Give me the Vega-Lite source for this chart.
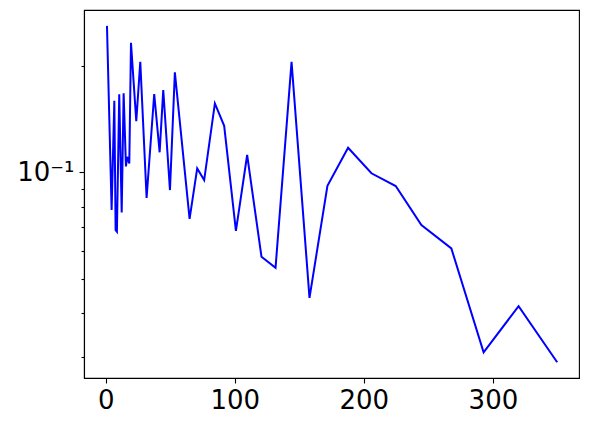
{
  "$schema": "https://vega.github.io/schema/vega-lite/v6.json",
  "width": 495,
  "height": 368,
  "autosize": {"type": "none"},
  "padding": {"left": 84, "top": 10, "right": 11, "bottom": 49},
  "background": "white",
  "config": {
    "view": {"stroke": "black", "strokeWidth": 1.1},
    "font": "DejaVu Sans"
  },
  "data": {
    "values": [
      {"x": 1, "y": 0.260},
      {"x": 4.6, "y": 0.0782},
      {"x": 6.7, "y": 0.1596},
      {"x": 7.7, "y": 0.0686},
      {"x": 8.7, "y": 0.0679},
      {"x": 10.5, "y": 0.1664},
      {"x": 12.4, "y": 0.0770},
      {"x": 13.9, "y": 0.1675},
      {"x": 15.7, "y": 0.104},
      {"x": 16.7, "y": 0.1107},
      {"x": 18.3, "y": 0.106},
      {"x": 19.6, "y": 0.2328},
      {"x": 23.7, "y": 0.1396},
      {"x": 26.8, "y": 0.2057},
      {"x": 31.7, "y": 0.0847},
      {"x": 37.6, "y": 0.1667},
      {"x": 41.8, "y": 0.114},
      {"x": 44.6, "y": 0.171},
      {"x": 49.8, "y": 0.0891},
      {"x": 53.6, "y": 0.192},
      {"x": 65, "y": 0.0738},
      {"x": 70.9, "y": 0.1026},
      {"x": 76.3, "y": 0.0951},
      {"x": 84.6, "y": 0.1568},
      {"x": 91.8, "y": 0.1355},
      {"x": 100.9, "y": 0.0683},
      {"x": 109.6, "y": 0.112},
      {"x": 120.7, "y": 0.0577},
      {"x": 131.6, "y": 0.0537},
      {"x": 144, "y": 0.2057},
      {"x": 157.9, "y": 0.0441},
      {"x": 171.8, "y": 0.0916},
      {"x": 187.8, "y": 0.1174},
      {"x": 205.9, "y": 0.0994},
      {"x": 224.7, "y": 0.0915},
      {"x": 244.6, "y": 0.0709},
      {"x": 267.8, "y": 0.0609},
      {"x": 292.8, "y": 0.0309},
      {"x": 319.9, "y": 0.0418},
      {"x": 349.8, "y": 0.02897}
    ]
  },
  "mark": {"type": "line", "color": "#0000ff", "strokeWidth": 2},
  "encoding": {
    "x": {
      "field": "x",
      "type": "quantitative",
      "scale": {"domain": [-16.8, 366.7], "nice": false, "zero": false},
      "axis": {
        "title": null,
        "values": [0, 100, 200, 300],
        "grid": false,
        "domainColor": "black",
        "domainWidth": 1.1,
        "tickColor": "black",
        "tickWidth": 1.1,
        "tickSize": 5,
        "labelFontSize": 26,
        "labelColor": "black",
        "labelPadding": 4,
        "labelFont": "DejaVu Sans"
      }
    },
    "y": {
      "field": "y",
      "type": "quantitative",
      "scale": {"type": "log", "domain": [0.02615, 0.2884], "nice": false, "zero": false},
      "axis": {
        "title": null,
        "values": [0.03, 0.04, 0.05, 0.06, 0.07, 0.08, 0.09, 0.1, 0.2],
        "labelExpr": "datum.value == 0.1 ? '10⁻¹' : ''",
        "grid": false,
        "domainColor": "black",
        "domainWidth": 1.1,
        "tickColor": "black",
        "tickWidth": 1.1,
        "tickSize": {"condition": {"test": "datum.value == 0.1", "value": 5}, "value": 3},
        "labelFontSize": 26,
        "labelColor": "black",
        "labelPadding": 5,
        "labelFont": "DejaVu Sans"
      }
    }
  }
}
